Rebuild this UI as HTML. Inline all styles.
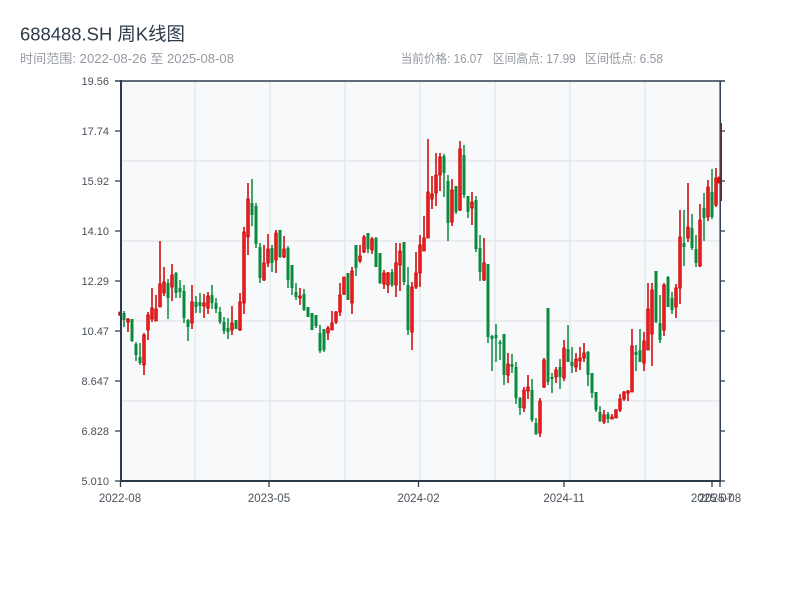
<!DOCTYPE html>
<html><head><meta charset="utf-8"><style>
html,body{margin:0;padding:0;background:#fff;}
svg{display:block;}
</style></head><body>
<svg width="800" height="600" viewBox="0 0 800 600" xmlns="http://www.w3.org/2000/svg">
<rect width="800" height="600" fill="#fff"/>
<text x="20" y="40.5" font-family="Liberation Sans, Noto Sans CJK SC, sans-serif" font-size="18.5" fill="#2f3a48" textLength="165" lengthAdjust="spacingAndGlyphs">688488.SH 周K线图</text>
<g font-family="Liberation Sans, Noto Sans CJK SC, sans-serif" font-size="12.5" fill="#959aa1">
<text x="20" y="63" textLength="214" lengthAdjust="spacingAndGlyphs">时间范围: 2022-08-26 至 2025-08-08</text>
<text x="400.7" y="63" textLength="82" lengthAdjust="spacingAndGlyphs">当前价格: 16.07</text>
<text x="492.7" y="63" textLength="83" lengthAdjust="spacingAndGlyphs">区间高点: 17.99</text>
<text x="585" y="63" textLength="78" lengthAdjust="spacingAndGlyphs">区间低点: 6.58</text>
</g>
<rect x="121" y="81" width="599" height="400" fill="#f7f9fb"/>
<g stroke="#e2e5ea" stroke-width="1.2">
<path d="M195 81V481M270 81V481M345 81V481M420 81V481M495 81V481M570 81V481M645 81V481"/>
<path d="M121 161H720M121 241H720M121 321H720M121 401H720"/>
</g>
<!-- red candles -->
<path fill="none" stroke="#cf0000" stroke-width="1.5" d="M120 312V316M128 318V332M144 333V375M148 312V340M152 288V322M156 295V321M160 241V307M164 267V296M172 264V301M192 285V329M204 294V318M208 292V314M232 306V335M240 293V331M244 227V314M248 183V255M264 245V281M268 234V267M276 230V273M284 236V258M300 288V305M328 326V340M332 311V330M336 311V324M340 283V316M344 277V295M352 267V314M360 245V263M364 235V253M372 237V254M384 270V289M388 272V293M396 243V297M400 243V291M412 282V350M416 252V289M420 235V287M424 216V251M428 139V238M432 176V209M436 153V206M440 153V191M452 179V226M460 141V211M472 192V225M484 238V281M508 353V383M524 387V412M528 375V399M540 398V437M544 358V388M556 367V383M564 340V381M576 353V372M580 347V370M584 343V362M604 410V424M612 414V419M616 409V418M620 394V412M624 391V401M628 390V401M632 329V392M644 332V371M648 283V350M652 283V366M664 283V336M676 284V318M680 210V304M688 183V242M700 204V267M708 180V221M716 168V207"/>
<path fill="#f01e1e" stroke="#c80000" stroke-width="0.8" d="M118.7 312h2.6v3h-2.6zM126.7 319h2.6v3h-2.6zM142.7 335h2.6v30h-2.6zM146.7 315h2.6v15h-2.6zM150.7 308h2.6v11h-2.6zM154.7 309h2.6v12h-2.6zM158.7 284h2.6v23h-2.6zM162.7 282h2.6v11h-2.6zM170.7 275h2.6v12h-2.6zM190.7 302h2.6v21h-2.6zM202.7 303h2.6v3h-2.6zM206.7 296h2.6v12h-2.6zM230.7 323h2.6v7h-2.6zM238.7 302h2.6v28h-2.6zM242.7 232h2.6v71h-2.6zM246.7 199h2.6v38h-2.6zM262.7 263h2.6v17h-2.6zM266.7 249h2.6v14h-2.6zM274.7 233h2.6v27h-2.6zM282.7 249h2.6v8h-2.6zM298.7 296h2.6v2h-2.6zM326.7 328h2.6v5h-2.6zM330.7 323h2.6v7h-2.6zM334.7 312h2.6v10h-2.6zM338.7 295h2.6v17h-2.6zM342.7 277h2.6v17h-2.6zM350.7 271h2.6v32h-2.6zM358.7 256h2.6v5h-2.6zM362.7 237h2.6v15h-2.6zM370.7 239h2.6v11h-2.6zM382.7 273h2.6v11h-2.6zM386.7 273h2.6v12h-2.6zM394.7 263h2.6v22h-2.6zM398.7 251h2.6v14h-2.6zM410.7 287h2.6v45h-2.6zM414.7 273h2.6v14h-2.6zM418.7 245h2.6v28h-2.6zM422.7 238h2.6v13h-2.6zM426.7 192h2.6v46h-2.6zM430.7 194h2.6v5h-2.6zM434.7 175h2.6v18h-2.6zM438.7 157h2.6v18h-2.6zM450.7 190h2.6v32h-2.6zM458.7 149h2.6v61h-2.6zM470.7 202h2.6v6h-2.6zM482.7 263h2.6v17h-2.6zM506.7 364h2.6v11h-2.6zM522.7 390h2.6v18h-2.6zM526.7 387h2.6v4h-2.6zM538.7 401h2.6v32h-2.6zM542.7 360h2.6v27h-2.6zM554.7 370h2.6v7h-2.6zM562.7 348h2.6v30h-2.6zM574.7 359h2.6v8h-2.6zM578.7 358h2.6v3h-2.6zM582.7 353h2.6v5h-2.6zM602.7 415h2.6v7h-2.6zM610.7 417h2.6v2h-2.6zM614.7 410h2.6v8h-2.6zM618.7 399h2.6v11h-2.6zM622.7 392h2.6v7h-2.6zM626.7 391h2.6v2h-2.6zM630.7 346h2.6v46h-2.6zM642.7 341h2.6v22h-2.6zM646.7 309h2.6v41h-2.6zM650.7 290h2.6v44h-2.6zM662.7 285h2.6v45h-2.6zM674.7 288h2.6v19h-2.6zM678.7 237h2.6v51h-2.6zM686.7 227h2.6v11h-2.6zM698.7 220h2.6v46h-2.6zM706.7 187h2.6v30h-2.6zM714.7 178h2.6v27h-2.6zM718.2 177h2.6v6h-2.6z"/>
<!-- green candles -->
<path fill="none" stroke="#0a8a3c" stroke-width="1.5" d="M124 311V327M132 319V342M136 342V361M140 343V365M168 279V319M176 272V298M180 280V298M184 285V323M188 319V341M196 296V313M200 293V313M212 285V309M216 298V313M220 307V324M224 317V334M228 318V339M236 320V329M252 179V226M256 203V248M260 243V283M272 245V272M280 230V258M288 246V288M292 265V295M296 283V300M304 289V311M308 307V317M312 313V330M316 315V328M320 325V353M324 329V352M348 273V300M356 245V276M368 233V253M376 237V267M380 253V284M392 269V287M404 242V285M408 267V335M444 154V197M448 175V241M456 186V214M464 145V198M468 196V218M476 196V252M480 235V281M488 264V343M492 335V371M496 324V362M500 340V360M504 334V385M512 354V373M516 362V404M520 397V415M532 379V422M536 418V435M548 308V385M552 373V393M560 359V389M568 325V362M572 347V373M588 351V386M592 373V398M596 392V412M600 406V422M608 412V423M636 345V371M640 329V362M656 271V323M660 295V343M668 276V307M672 292V314M684 210V266M692 214V250M696 235V267M704 193V241M712 169V219"/>
<path fill="#0a8a3c" d="M122.5 313h3v7h-3zM130.5 319h3v22h-3zM134.5 344h3v11h-3zM138.5 357h3v6h-3zM166.5 283h3v15h-3zM174.5 273h3v20h-3zM178.5 288h3v4h-3zM182.5 291h3v27h-3zM186.5 320h3v7h-3zM194.5 302h3v5h-3zM198.5 302h3v4h-3zM210.5 295h3v8h-3zM214.5 303h3v6h-3zM218.5 312h3v10h-3zM222.5 322h3v9h-3zM226.5 328h3v4h-3zM234.5 320h3v9h-3zM250.5 203h3v12h-3zM254.5 206h3v38h-3zM258.5 247h3v31h-3zM270.5 248h3v15h-3zM278.5 230h3v27h-3zM286.5 248h3v32h-3zM290.5 265h3v23h-3zM294.5 292h3v5h-3zM302.5 294h3v16h-3zM306.5 307h3v10h-3zM310.5 313h3v17h-3zM314.5 315h3v11h-3zM318.5 333h3v18h-3zM322.5 329h3v21h-3zM346.5 273h3v27h-3zM354.5 245h3v23h-3zM366.5 233h3v16h-3zM374.5 238h3v29h-3zM378.5 253h3v30h-3zM390.5 272h3v13h-3zM402.5 242h3v40h-3zM406.5 285h3v45h-3zM442.5 156h3v17h-3zM446.5 181h3v42h-3zM454.5 186h3v26h-3zM462.5 155h3v40h-3zM466.5 196h3v16h-3zM474.5 200h3v49h-3zM478.5 248h3v24h-3zM486.5 264h3v73h-3zM490.5 336h3v3h-3zM494.5 335h3v3h-3zM498.5 342h3v2h-3zM502.5 334h3v41h-3zM510.5 364h3v3h-3zM514.5 367h3v31h-3zM518.5 398h3v10h-3zM530.5 390h3v30h-3zM534.5 423h3v11h-3zM546.5 308h3v74h-3zM550.5 377h3v2h-3zM558.5 367h3v10h-3zM566.5 349h3v13h-3zM570.5 362h3v4h-3zM586.5 352h3v23h-3zM590.5 373h3v20h-3zM594.5 392h3v18h-3zM598.5 412h3v9h-3zM606.5 414h3v5h-3zM634.5 352h3v3h-3zM638.5 350h3v12h-3zM654.5 271h3v51h-3zM658.5 323h3v17h-3zM666.5 277h3v30h-3zM670.5 298h3v12h-3zM682.5 243h3v4h-3zM690.5 228h3v20h-3zM694.5 249h3v14h-3zM702.5 208h3v10h-3zM710.5 192h3v25h-3z"/>
<!-- axes -->
<g stroke="#2c3a4b" fill="none">
<path stroke-width="1.4" d="M115 81H725"/>
<path stroke-width="2" d="M121 80V482M120 481H721"/>
<path stroke-width="1.5" d="M720.2 81V482"/>
<path stroke-width="1.3" d="M115 131H121M115 181H121M115 231H121M115 281H121M115 331H121M115 381H121M115 431H121M115 481H121"/>
<path stroke-width="1.3" d="M720 131H725M720 181H725M720 231H725M720 281H725M720 331H725M720 381H725M720 431H725M720 481H725"/>
<path stroke-width="1.3" d="M120.5 481V487M269 481V487M418.5 481V487M564 481V487M712 481V487M720 481V487"/>
</g>
<path stroke="#cf0000" stroke-width="1.2" d="M721.4 123V201"/>
<g font-family="Liberation Sans, sans-serif" font-size="11" fill="#4a515b" text-anchor="end">
<text x="109" y="85">19.56</text>
<text x="109" y="135">17.74</text>
<text x="109" y="185">15.92</text>
<text x="109" y="235">14.10</text>
<text x="109" y="285">12.29</text>
<text x="109" y="335">10.47</text>
<text x="109" y="385">8.647</text>
<text x="109" y="435">6.828</text>
<text x="109" y="485">5.010</text>
</g>
<g font-family="Liberation Sans, sans-serif" font-size="11.5" fill="#4a515b" text-anchor="middle">
<text x="120" y="502">2022-08</text>
<text x="269" y="502">2023-05</text>
<text x="418.5" y="502">2024-02</text>
<text x="564" y="502">2024-11</text>
<text x="712" y="502">2025-07</text>
<text x="720" y="502">2025-08</text>
</g>
</svg>
</body></html>
